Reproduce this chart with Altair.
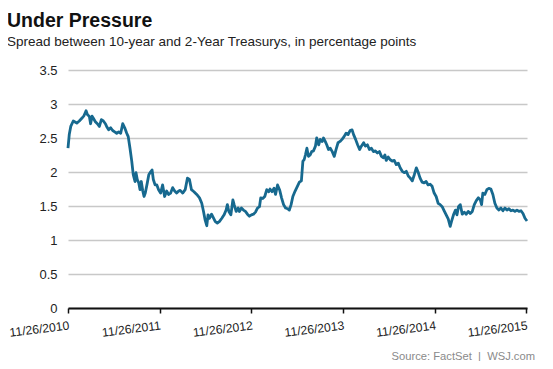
import altair as alt
import pandas as pd

START = "2010-11-26"

# days after 11/26/2010
days = [0, 5, 11, 21, 35, 45, 55, 64, 72, 78, 85, 90, 96, 101, 109, 117, 125, 133, 141, 149,
        154, 162, 170, 178, 186, 194, 202, 210, 218, 226, 234, 240, 247, 254, 260, 267, 271, 276, 282, 287,
        292, 298, 303, 308, 316, 322, 327, 335, 340, 347, 354, 361, 369, 377, 385, 393, 401, 409, 417, 425,
        433, 441,
        447, 457, 467, 476, 484, 492, 502, 513, 524, 533, 540, 546, 553, 558, 564, 572, 580, 587, 595, 603,
        613, 622, 630, 635, 641, 649, 657, 662, 670, 678, 683, 691, 699, 707, 715, 723, 731, 739, 747, 755,
        763, 768, 776, 784, 792, 800, 805, 813, 821, 827, 835, 843, 851, 859, 867, 875, 882,
        889, 896, 905, 914, 922, 930, 936, 941, 946, 952, 958, 965, 971, 978, 986, 991, 999, 1005, 1013, 1018,
        1025, 1031, 1038, 1045, 1053, 1061, 1068, 1076, 1084, 1092, 1100, 1108, 1116, 1124, 1132, 1138, 1146, 1154, 1162, 1169,
        1178, 1185, 1193, 1201, 1209, 1217, 1225, 1233, 1241, 1249, 1257, 1263, 1268, 1276, 1284, 1292, 1300, 1308, 1316, 1324,
        1332, 1340, 1348, 1356, 1364,
        1372, 1380, 1388, 1395, 1403, 1411, 1419, 1427, 1435, 1443, 1451, 1459, 1467, 1475, 1483, 1491, 1499, 1507, 1515, 1523,
        1528, 1536, 1544, 1550, 1556, 1563, 1571, 1579, 1587, 1595, 1603, 1611, 1619, 1627, 1635, 1643, 1648, 1653, 1661, 1669,
        1677, 1685, 1693, 1701, 1709, 1717, 1725, 1733, 1741, 1749, 1757, 1765, 1773, 1781, 1789, 1797, 1805, 1813, 1821, 1829]

spread = [2.35, 2.55, 2.67, 2.75, 2.72, 2.75, 2.79, 2.83, 2.90, 2.84, 2.82, 2.71, 2.82, 2.79, 2.74, 2.71, 2.67, 2.77, 2.75, 2.71,
          2.67, 2.62, 2.65, 2.61, 2.59, 2.57, 2.59, 2.57, 2.71, 2.65, 2.57, 2.52, 2.35, 2.16, 1.96, 1.86, 1.99, 1.89, 1.84, 1.74,
          1.86, 1.72, 1.64, 1.69, 1.84, 1.96, 1.99, 2.03, 1.89, 1.81, 1.81, 1.74, 1.69, 1.81, 1.64, 1.72, 1.67, 1.69, 1.77, 1.72,
          1.69, 1.72,
          1.73, 1.69, 1.74, 1.91, 1.89, 1.74, 1.71, 1.67, 1.62, 1.54, 1.42, 1.30, 1.21, 1.37, 1.32, 1.38, 1.32, 1.27, 1.25, 1.27,
          1.32, 1.37, 1.44, 1.52, 1.42, 1.37, 1.59, 1.52, 1.42, 1.47, 1.42, 1.47, 1.44, 1.42, 1.38, 1.35, 1.37, 1.38, 1.41, 1.47,
          1.49, 1.62, 1.61, 1.64, 1.74, 1.71, 1.75, 1.71, 1.76, 1.67, 1.81, 1.74, 1.62, 1.52, 1.47, 1.46, 1.44,
          1.52, 1.64, 1.72, 1.79, 1.85, 1.87, 2.16, 2.18, 2.25, 2.35, 2.23, 2.25, 2.30, 2.31, 2.38, 2.50, 2.40, 2.48, 2.45, 2.50,
          2.45, 2.40, 2.33, 2.35, 2.30, 2.23, 2.33, 2.43, 2.45, 2.48, 2.52, 2.57, 2.55, 2.61, 2.62, 2.55, 2.48, 2.40, 2.33, 2.38,
          2.43, 2.38, 2.40, 2.33, 2.35, 2.30, 2.31, 2.28, 2.30, 2.23, 2.21, 2.25, 2.17, 2.22, 2.18, 2.16, 2.17, 2.11, 2.13, 2.06,
          2.01, 1.99, 2.01, 1.94, 1.91,
          1.87, 1.96, 2.06, 2.00, 1.91, 1.85, 1.84, 1.86, 1.81, 1.82, 1.79, 1.69, 1.64, 1.54, 1.52, 1.49, 1.43, 1.37, 1.31, 1.20,
          1.27, 1.37, 1.44, 1.37, 1.49, 1.52, 1.38, 1.41, 1.38, 1.42, 1.39, 1.42, 1.52, 1.58, 1.62, 1.59, 1.52, 1.69, 1.67, 1.74,
          1.76, 1.75, 1.67, 1.54, 1.47, 1.44, 1.47, 1.43, 1.47, 1.44, 1.46, 1.43, 1.44, 1.42, 1.44, 1.42, 1.43, 1.39, 1.32, 1.28]

tick_years = [2010, 2011, 2012, 2013, 2014, 2015]
y_ticks = [0, 0.5, 1, 1.5, 2, 2.5, 3, 3.5]

TITLE = "Under Pressure"
SUBTITLE = "Spread between 10-year and 2-Year Treasurys, in percentage points"
SOURCE = "Source: FactSet \u00a0|\u00a0 WSJ.com"

df = pd.DataFrame({
    "date": pd.Timestamp(START) + pd.to_timedelta(days, unit="D"),
    "spread": spread,
})

W, H = 459, 238
FONT = "Liberation Sans"

x_enc = alt.X(
    "date:T",
    scale=alt.Scale(domain=[alt.DateTime(year=2010, month=11, date=26),
                            alt.DateTime(year=2015, month=11, date=29)]),
    axis=alt.Axis(
        values=[alt.DateTime(year=y, month=11, date=26) for y in tick_years],
        format="%m/%d/%Y", labelAngle=-7, labelAlign="right", labelBaseline="top",
        labelPadding=6, labelFontSize=12.2, labelColor="#222", labelFont=FONT,
        grid=False, domainColor="#111", domainWidth=2, tickColor="#111",
        tickSize=5, tickWidth=1.5, title=None, labelOverlap=False,
    ),
)
y_enc = alt.Y(
    "spread:Q",
    scale=alt.Scale(domain=[0, 3.5], nice=False, zero=True),
    axis=alt.Axis(
        values=y_ticks, labelExpr="datum.value + ''", domain=False, ticks=False,
        tickSize=0, labelPadding=11, labelFontSize=13, labelColor="#222", labelFont=FONT,
        gridColor="#c8c8c8", gridWidth=1.5, title=None,
    ),
)

line = alt.Chart(df).mark_line(color="#17698f", strokeWidth=2.8, strokeJoin="round").encode(
    x=x_enc, y=y_enc
)

source = alt.Chart(pd.DataFrame({"t": [SOURCE]})).mark_text(
    align="right", baseline="alphabetic", fontSize=11.2, color="#8a8a8a", font=FONT
).encode(text="t:N", x=alt.value(W + 8), y=alt.value(H + 52))

chart = alt.layer(line, source).properties(
    width=W, height=H,
    autosize=alt.AutoSizeParams(type="none"),
    padding={"left": 60, "top": 62, "right": 18, "bottom": 53},
    title=alt.TitleParams(
        text=TITLE, subtitle=SUBTITLE, anchor="start", frame="group",
        dx=-61, font=FONT, fontSize=19.5, fontWeight="bold", color="#111",
        subtitleFont=FONT, subtitleFontSize=13.5, subtitleColor="#222", subtitlePadding=3,
        offset=15,
    ),
).configure_view(stroke=None)

chart.save("out.html", embed_options={"renderer": "svg", "actions": False})
